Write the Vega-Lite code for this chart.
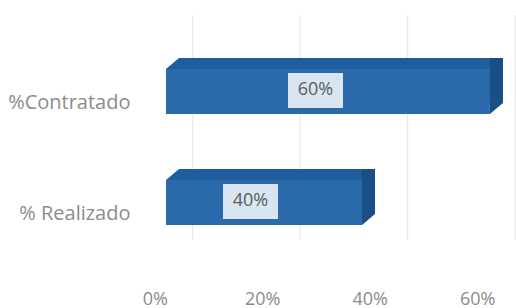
{
  "$schema": "https://vega.github.io/schema/vega-lite/v6.json",
  "width": 350,
  "height": 225,
  "autosize": {"type": "none"},
  "padding": {"left": 166, "top": 15, "right": 0, "bottom": 68},
  "background": "white",
  "config": {"view": {"stroke": null}, "font": "Open Sans"},
  "datasets": {
    "bars": [
      {"indicador": "%Contratado", "valor": 0.6},
      {"indicador": "% Realizado", "valor": 0.4}
    ],
    "ticks": [{"t": 0}, {"t": 0.2}, {"t": 0.4}, {"t": 0.6}]
  },
  "layer": [
    {
      "data": {"name": "ticks"},
      "mark": {"type": "rule", "color": "#e4e4e4", "strokeWidth": 1},
      "encoding": {
        "x": {
          "field": "t", "type": "quantitative",
          "scale": {"domain": [-0.0497, 0.6015], "nice": false, "zero": false},
          "axis": {"title": null, "values": [0, 0.2, 0.4, 0.6], "format": ".0%", "grid": false, "ticks": false, "domain": false, "labelOffset": -38, "labelPadding": 50, "labelFontSize": 18, "labelColor": "#8c8c8c", "labelFont": "Open Sans", "labelFlush": false}
        }
      }
    },
    {
      "data": {"name": "bars"},
      "layer": [
        {
          "mark": {"type": "bar", "color": "#1f5e9e", "xOffset": 13, "x2Offset": 13, "yOffset": -11, "y2Offset": -11},
          "encoding": {
            "y": {
              "field": "indicador", "type": "nominal", "sort": null,
              "scale": {"paddingInner": 0.595, "paddingOuter": 0.311, "align": 0.782},
              "axis": {"title": null, "ticks": false, "domain": false, "labelOffset": 12, "labelPadding": 36, "labelFontSize": 20, "labelColor": "#8c8c8c", "labelFont": "Open Sans"}
            },
            "x": {
              "field": "valor", "type": "quantitative",
              "scale": {"type": "pow", "exponent": 1.239, "domain": [0, 0.6387], "nice": false, "zero": true},
              "axis": null
            }
          }
        },
        {
          "mark": {"type": "point", "shape": "M0,0L1,-0.846L1,0Z", "size": 676, "filled": true, "opacity": 1, "strokeWidth": 0, "color": "#1f5e9e", "yOffset": -22.5},
          "encoding": {
            "y": {"field": "indicador", "type": "nominal", "sort": null},
            "x": {"datum": 0, "type": "quantitative"}
          }
        },
        {
          "mark": {"type": "bar", "color": "#1a4f86", "x2Offset": 13, "yOffset": -11, "y2Offset": -11},
          "encoding": {
            "y": {"field": "indicador", "type": "nominal", "sort": null},
            "x": {"field": "valor", "type": "quantitative"},
            "x2": {"field": "valor"}
          }
        },
        {
          "mark": {"type": "point", "shape": "M0,0L0,-0.846L1,-0.846Z", "size": 676, "filled": true, "opacity": 1, "strokeWidth": 0, "color": "#1a4f86", "yOffset": 22.5},
          "encoding": {
            "y": {"field": "indicador", "type": "nominal", "sort": null},
            "x": {"field": "valor", "type": "quantitative"}
          }
        },
        {
          "mark": {"type": "bar", "color": "#2a6aab"},
          "encoding": {
            "y": {"field": "indicador", "type": "nominal", "sort": null},
            "x": {"field": "valor", "type": "quantitative"}
          }
        }
      ]
    },
    {
      "data": {"name": "bars"},
      "layer": [
        {
          "mark": {"type": "point", "shape": "M-1,-0.636H1V0.636H-1Z", "size": 3025, "filled": true, "color": "#d9e6f2", "opacity": 1, "strokeWidth": 0, "yOffset": -1},
          "encoding": {
            "y": {"field": "indicador", "type": "nominal", "sort": null},
            "x": {"field": "valor", "type": "quantitative", "scale": {"domain": [0.14, 1.2169], "nice": false, "zero": false}, "axis": null}
          }
        },
        {
          "mark": {"type": "text", "fontSize": 18, "color": "#5a5a5a", "font": "Open Sans", "yOffset": -1},
          "encoding": {
            "y": {"field": "indicador", "type": "nominal", "sort": null},
            "x": {"field": "valor", "type": "quantitative"},
            "text": {"field": "valor", "type": "quantitative", "format": ".0%"}
          }
        }
      ]
    }
  ],
  "resolve": {"scale": {"x": "independent"}}
}
